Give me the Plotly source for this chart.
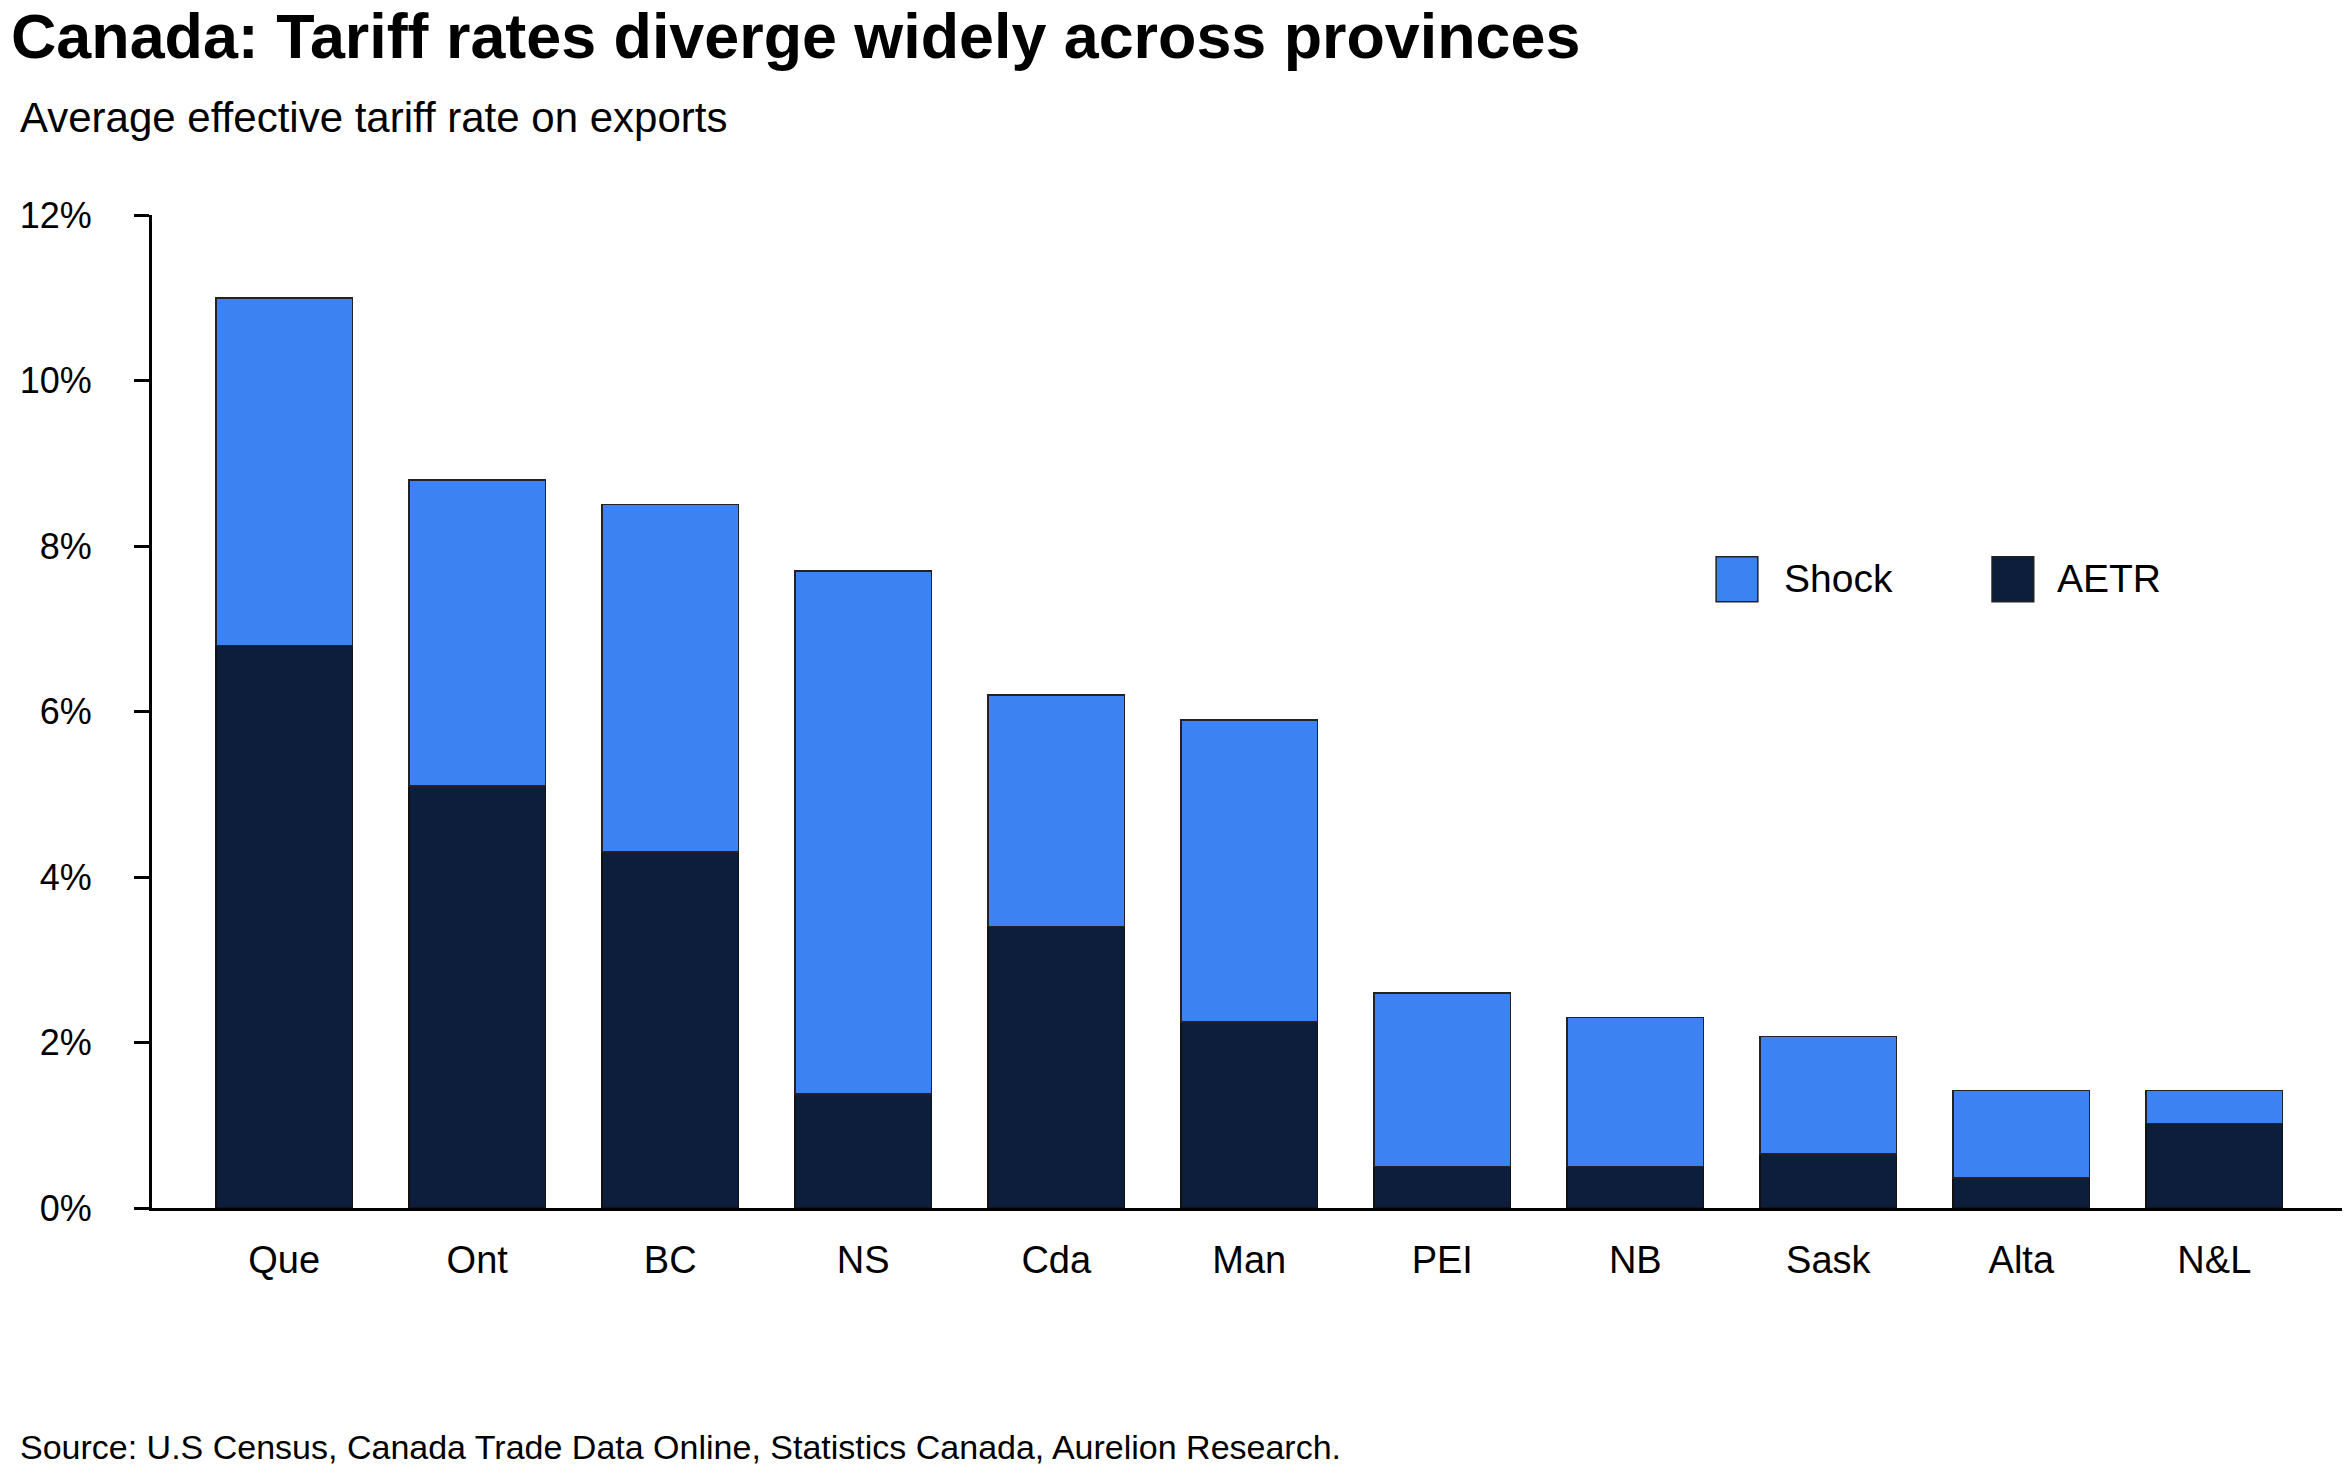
import plotly.graph_objects as go

provinces = ["Que", "Ont", "BC", "NS", "Cda", "Man", "PEI", "NB", "Sask", "Alta", "N&L"]
aetr = [6.8, 5.1, 4.3, 1.38, 3.4, 2.25, 0.5, 0.5, 0.65, 0.36, 1.02]
shock = [4.2, 3.7, 4.2, 6.32, 2.8, 3.65, 2.1, 1.8, 1.42, 1.06, 0.40]
y_ticks = [0, 2, 4, 6, 8, 10, 12]
y_labels = [f"{v}%" for v in y_ticks]

NAVY = "#0d1e3c"
BLUE = "#3d82f2"
FONT = "Liberation Sans, Arial, sans-serif"

fig = go.Figure()
fig.add_trace(go.Bar(x=provinces, y=aetr, name="AETR", marker_color=NAVY,
                     marker_line=dict(color="#111111", width=1.5)))
fig.add_trace(go.Bar(x=provinces, y=shock, name="Shock", marker_color=BLUE,
                     marker_line=dict(color="#222222", width=1.5)))

fig.update_layout(
    width=2352, height=1474,
    barmode="stack", bargap=0.293,
    showlegend=False,
    plot_bgcolor="white", paper_bgcolor="white",
    font=dict(family=FONT, size=38, color="black"),
    margin=dict(l=135, r=18, t=207, b=273.5),
    title=dict(text="<b>Canada: Tariff rates diverge widely across provinces</b>",
               font=dict(size=62.8, color="black"),
               xref="container", x=3 / 2352, xanchor="left",
               yref="container", y=1 - 6 / 1474, yanchor="top"),
)

fig.update_xaxes(range=[-0.685, 10.6615], showline=True, linecolor="black", linewidth=3,
                 ticks="", showgrid=False, tickfont=dict(size=38),
                 ticklabelstandoff=16)
fig.update_yaxes(range=[0, 12], tickvals=y_ticks, ticktext=y_labels,
                 showline=True, linecolor="black", linewidth=3,
                 ticks="outside", ticklen=15, tickwidth=3, tickcolor="black",
                 showgrid=False, zeroline=False, tickfont=dict(size=36),
                 ticklabelstandoff=35)

# subtitle and source
fig.add_annotation(text="Average effective tariff rate on exports", xref="paper", yref="paper",
                   x=-0.0611, y=1.0981, xanchor="left", yanchor="middle",
                   showarrow=False, font=dict(size=42))
fig.add_annotation(text="Source: U.S Census, Canada Trade Data Online, Statistics Canada, Aurelion Research.",
                   xref="paper", yref="paper", x=-0.0611, y=-0.2406,
                   xanchor="left", yanchor="middle", showarrow=False, font=dict(size=34))

# legend drawn as boxes and labels
for name, color, x0, tx in [("Shock", BLUE, 0.7142, 0.7442), ("AETR", NAVY, 0.8402, 0.8689)]:
    fig.add_shape(type="rect", xref="paper", yref="paper", x0=x0, x1=x0 + 0.01905,
                  y0=0.6105, y1=0.6558, fillcolor=color, line=dict(color="#222222", width=1.5))
    fig.add_annotation(text=name, xref="paper", yref="paper", x=tx, y=0.6335,
                       xanchor="left", yanchor="middle", showarrow=False, font=dict(size=39))

fig.write_html("out.html")
